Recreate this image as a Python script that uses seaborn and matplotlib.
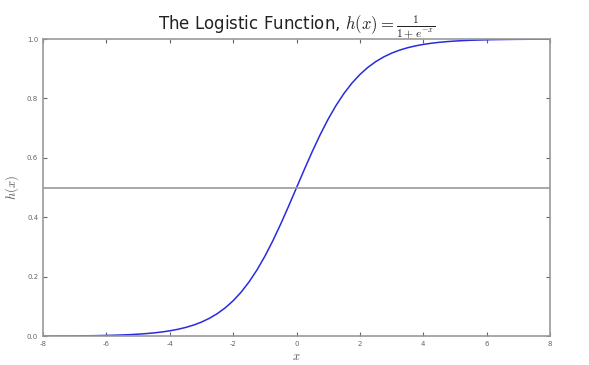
import pandas as pd
import matplotlib
matplotlib.use("Agg")
import matplotlib.pyplot as plt
import seaborn as sns

# Puntos (x de -8 a 8, paso 0.25)
x_vals = [-8.0, -7.75, -7.5, -7.25, -7.0, -6.75, -6.5, -6.25, -6.0, -5.75,
          -5.5, -5.25, -5.0, -4.75, -4.5, -4.25, -4.0, -3.75, -3.5, -3.25,
          -3.0, -2.75, -2.5, -2.25, -2.0, -1.75, -1.5, -1.25, -1.0, -0.75,
          -0.5, -0.25, 0.0, 0.25, 0.5, 0.75, 1.0, 1.25, 1.5, 1.75, 2.0,
          2.25, 2.5, 2.75, 3.0, 3.25, 3.5, 3.75, 4.0, 4.25, 4.5, 4.75, 5.0,
          5.25, 5.5, 5.75, 6.0, 6.25, 6.5, 6.75, 7.0, 7.25, 7.5, 7.75, 8.0]
h_vals = [0.0003, 0.0004, 0.0006, 0.0007, 0.0009, 0.0012, 0.0015, 0.0019,
          0.0025, 0.0032, 0.0041, 0.0052, 0.0067, 0.0086, 0.0110, 0.0141,
          0.0180, 0.0230, 0.0293, 0.0373, 0.0474, 0.0601, 0.0759, 0.0953,
          0.1192, 0.1480, 0.1824, 0.2227, 0.2689, 0.3208, 0.3775, 0.4378,
          0.5000, 0.5622, 0.6225, 0.6792, 0.7311, 0.7773, 0.8176, 0.8520,
          0.8808, 0.9047, 0.9241, 0.9399, 0.9526, 0.9627, 0.9707, 0.9770,
          0.9820, 0.9859, 0.9890, 0.9914, 0.9933, 0.9948, 0.9959, 0.9968,
          0.9975, 0.9981, 0.9985, 0.9988, 0.9991, 0.9993, 0.9994, 0.9996,
          0.9997]
x_ticks = [-8, -6, -4, -2, 0, 2, 4, 6, 8]
y_ticks = [0.0, 0.2, 0.4, 0.6, 0.8, 1.0]
threshold = 0.5

df = pd.DataFrame({"x": x_vals, "h": h_vals})

sns.set_style("white")
plt.rcParams["mathtext.fontset"] = "cm"
fig = plt.figure(figsize=(5.89, 3.65), dpi=100)
ax = fig.add_axes([0.073, 0.079, 0.861, 0.814])

sns.lineplot(data=df, x="x", y="h", color="#2a2ae0", linewidth=1.1, ax=ax)
ax.axhline(threshold, color="#999999", linewidth=1.2)

ax.set_xlim(-8, 8)
ax.set_ylim(0, 1)
ax.set_xticks(x_ticks)
ax.set_yticks(y_ticks)
ax.set_xticklabels([str(t) for t in x_ticks])
ax.set_yticklabels([f"{t:.1f}" for t in y_ticks])
ax.tick_params(labelsize=5, colors="#666666", direction="in", length=3,
               top=True, right=True, bottom=True, left=True)
for s in ax.spines.values():
    s.set_color("#999999")
    s.set_linewidth(1.2)

ax.set_xlabel("$x$", fontsize=9, color="#555555", labelpad=2)
ax.set_ylabel("$h(x)$", fontsize=9, color="#555555")
ax.set_title("The Logistic Function, " + r"$h(x) = \frac{1}{1+e^{-x}}$",
             fontsize=12, color="#222222", pad=6)

plt.savefig("out.png", dpi=100)
